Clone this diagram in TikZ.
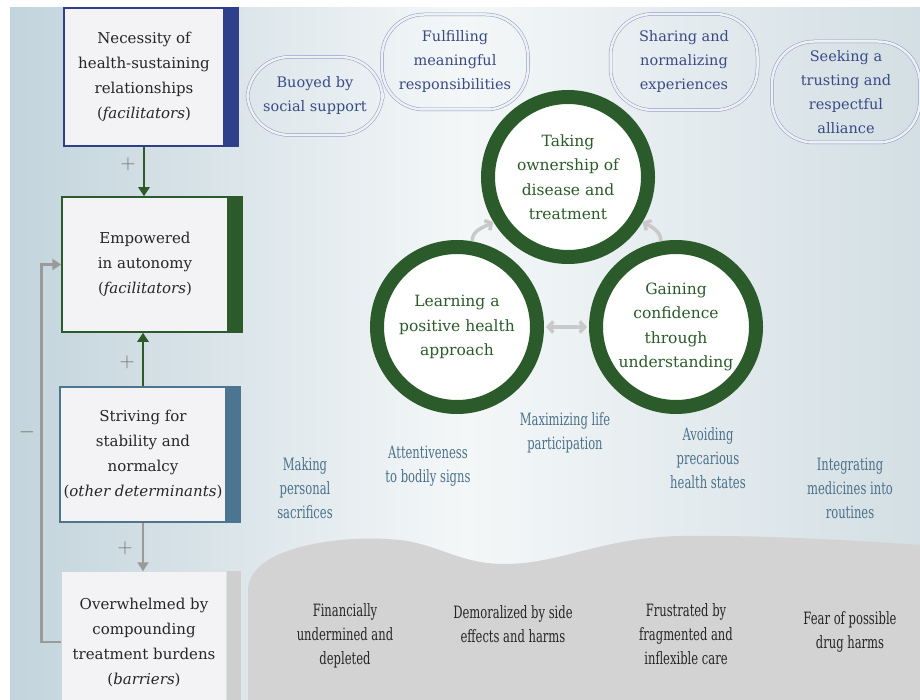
\documentclass[tikz,border=0pt]{standalone}
\usepackage{fontspec}
\setmainfont{DejaVu Serif}
\newfontfamily\narrowfont{DejaVu Serif}[FakeStretch=0.68]
\usepackage{tikz}
\usetikzlibrary{calc}
\usetikzlibrary{arrows.meta}

\definecolor{bgleft}{HTML}{C3D4DC}
\definecolor{bgmid}{HTML}{F4F7F8}
\definecolor{bgright}{HTML}{D3DFE4}
\definecolor{boxfill}{HTML}{F3F3F5}
\definecolor{boxblue}{HTML}{2F3F8C}
\definecolor{boxgreen}{HTML}{2C5A2B}
\definecolor{boxsteel}{HTML}{4B7590}
\definecolor{boxgray}{HTML}{CFCFCF}
\definecolor{ringgreen}{HTML}{2B5B2A}
\definecolor{bubbleline}{HTML}{8F98C4}
\definecolor{bubblefill}{HTML}{EDF1F3}
\definecolor{bubbletext}{HTML}{3A4A85}
\definecolor{midtext}{HTML}{4B718A}
\definecolor{wavegray}{HTML}{D3D3D3}
\definecolor{arrowgray}{HTML}{9A9A9A}
\definecolor{cyclegray}{HTML}{C9C9C9}
\definecolor{signgray}{HTML}{707070}

\tikzset{
  factorbox/.style={draw, line width=1.5pt, fill=boxfill, minimum width=166pt,
    minimum height=135pt, align=center, text=black!85,
    font=\fontsize{15}{25}\selectfont},
  ring/.style={circle, draw=ringgreen, line width=14pt, fill=white,
    minimum size=160pt, inner sep=0pt, align=center, text=ringgreen,
    font=\fontsize{15.5}{24.5}\selectfont},
  bubble/.style={draw=bubbleline, line width=0.5pt, double=bubblefill,
    double distance=2.5pt, rounded corners=42pt, align=center,
    text=bubbletext, font=\fontsize{14.5}{24}\selectfont},
  midlabel/.style={align=center, text=midtext, font=\narrowfont\fontsize{17}{24}\selectfont},
  burden/.style={align=center, text=black!85, font=\narrowfont\fontsize{17}{24}\selectfont},
  linkarrow/.style={line width=2.5pt, -{Triangle[length=9pt,width=11pt]}},
  cyclearrow/.style={draw=cyclegray, line width=3.5pt, -{Straight Barb[length=5pt,width=11pt]}},
  sign/.style={text=signgray, font=\fontsize{22}{22}\selectfont}
}
\newcommand{\stripe}[2]{\fill[#2] (#1.north east) rectangle ($(#1.south east)+(14,0)$);}
\newcommand{\bubblenode}[6]{\node[bubble, minimum width=#4pt, minimum height=#5pt] (#1) at (#2,#3) {#6};}

\begin{document}
\begin{tikzpicture}[x=1pt,y=-1pt]
        \useasboundingbox (0,0) rectangle (920,700);
        %background
        \shade[left color=bgleft, right color=bgright, middle color=bgmid] (10,8) rectangle (920,700);
        \fill[wavegray] (248,700) -- (248,590) .. controls (248,578) and (256,566) .. (275,556)
          .. controls (310,540) and (360,536) .. (400,540) .. controls (440,545) and (460,564) .. (505,564)
          .. controls (560,564) and (600,538) .. (680,536) .. controls (760,535) and (850,540) .. (920,545)
          -- (920,700) -- cycle;
        %factor boxes
        \node[factorbox, draw=boxblue, minimum width=160pt, minimum height=138pt] (relat) at (144,77)
          {Necessity of\\health-sustaining\\relationships\\(\textit{facilitators})};
        \node[factorbox, draw=boxgreen] (empow) at (145,264.5)
          {Empowered\\in autonomy\\(\textit{facilitators})};
        \node[factorbox, draw=boxsteel] (striv) at (143,454.5)
          {Striving for\\stability and\\normalcy\\(\textit{other determinants})};
        \node[factorbox, draw=none, minimum width=164pt, minimum height=140pt] (overw) at (144,642)
          {Overwhelmed by\\compounding\\treatment burdens\\(\textit{barriers})};
        \stripe{relat}{boxblue}
        \stripe{empow}{boxgreen}
        \stripe{striv}{boxsteel}
        \stripe{overw}{boxgray}
        %links
        \draw[linkarrow, boxgreen] (relat.south) -- (relat.south |- empow.north);
        \draw[linkarrow, boxgreen] (striv.north) -- (striv.north |- empow.south);
        \draw[linkarrow, arrowgray] (striv.south) -- (striv.south |- overw.north);
        \draw[linkarrow, arrowgray] (overw.west) -- ++(-20,0) |- (empow.west);
        \node[sign] (plusa) at (128,164) {$+$};
        \node[sign] (plusb) at (127,362) {$+$};
        \node[sign] (plusc) at (125,548) {$+$};
        \node[sign] (minus) at (27,432) {$-$};
        %bubbles
        \bubblenode{buoy}{315}{96}{135}{78}{Buoyed by\\social support}
        \bubblenode{fulfil}{455}{62}{146}{95}{Fulfilling\\meaningful\\responsibilities}
        \bubblenode{share}{684}{62}{147}{96}{Sharing and\\normalizing\\experiences}
        \bubblenode{seek}{846}{92}{148}{101}{Seeking a\\trusting and\\respectful\\alliance}
        %circles
        \node[ring] (owner) at (568,177) {Taking\\ownership of\\disease and\\treatment};
        \node[ring] (learn) at (457,327) {Learning a\\positive health\\approach};
        \node[ring] (gain) at (676,327) {Gaining\\confidence\\through\\understanding};
        \draw[cyclearrow] (learn.80) to[out=90,in=210] (owner.211);
        \draw[cyclearrow] (gain.100) to[out=90,in=330] (owner.329);
        \draw[cyclearrow, {Straight Barb[length=5pt,width=11pt]}-{Straight Barb[length=5pt,width=11pt]},
          shorten <=2pt, shorten >=2pt] (learn) -- (gain);
        %determinants
        \node[midlabel] (sacri) at (305,488) {Making\\personal\\sacrifices};
        \node[midlabel] (attent) at (428,466) {Attentiveness\\to bodily signs};
        \node[midlabel] (maxim) at (565,433) {Maximizing life\\participation};
        \node[midlabel] (avoid) at (708,458) {Avoiding\\precarious\\health states};
        \node[midlabel] (integ) at (850,488) {Integrating\\medicines into\\routines};
        %barriers
        \node[burden] (finan) at (345,636) {Financially\\undermined and\\depleted};
        \node[burden] (demor) at (513,624) {Demoralized by side\\effects and harms};
        \node[burden] (frust) at (686,634) {Frustrated by\\fragmented and\\inflexible care};
        \node[burden] (fear) at (850,632) {Fear of possible\\drug harms};
\end{tikzpicture}
\end{document}
